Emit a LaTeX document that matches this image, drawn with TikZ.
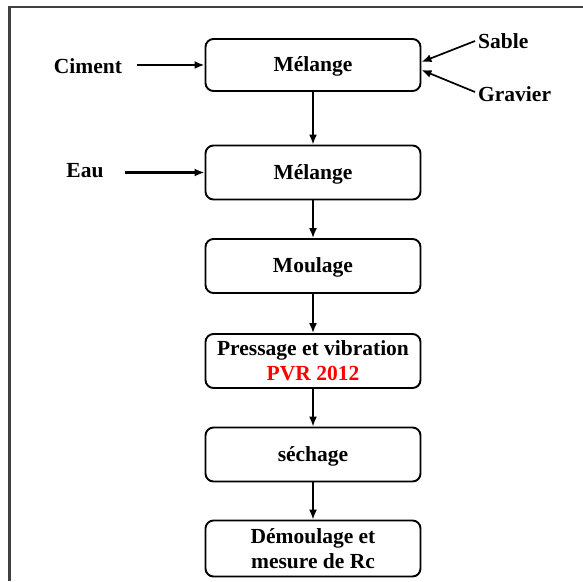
\documentclass[tikz,border=0pt]{standalone}
\usepackage{fontspec}
\setmainfont{Liberation Serif}
\usetikzlibrary{arrows.meta}
\tikzstyle{etape}=[draw, rounded corners=8pt, line width=1.9pt, minimum width=215pt, minimum height=54pt, align=center, inner sep=0pt, font=\fontsize{21.5}{25}\selectfont\bfseries]
\tikzstyle{seule}=[text depth=1pt]
\tikzstyle{entree}=[inner sep=0pt, font=\fontsize{21.5}{25}\selectfont\bfseries]
\tikzstyle{fleche}=[line width=1.7pt, -{Latex[length=10pt,width=8pt]}]
\tikzstyle{apport}=[fleche, line width=2.2pt]
\definecolor{cadre}{rgb}{0.25,0.25,0.25}

\begin{document}
\begin{tikzpicture}[x=1pt,y=-1pt]
    \useasboundingbox (0,0) rectangle (583,581);

    % outer frame, cut at the right and at the bottom
    \draw[line width=2.8pt, color=cadre] (9.5,581) -- (9.5,7) -- (583,7);

    % the steps of the process
    \node[etape, seule, minimum height=52pt] (m1) at (313,65) {Mélange};
    \node[etape, seule] (m2) at (313,172.5) {Mélange};
    \node[etape, seule] (moul) at (313,266) {Moulage};
    \node[etape] (press) at (313,361) {Pressage et vibration\\\textcolor{red}{PVR 2012}};
    \node[etape, seule] (sech) at (313,454.5) {séchage};
    \node[etape, minimum height=56pt] (demoul) at (313,548.5) {Démoulage et\\mesure de Rc};

    % the inputs
    \node[entree] (ciment) at (88,66) {Ciment};
    \node[entree] (eau) at (85,171) {Eau};
    \node[entree, anchor=west] (sable) at (478,41) {Sable};
    \node[entree, anchor=west] (gravier) at (478,94) {Gravier};

    % arrows into the first two steps
    \draw[apport] ([xshift=15pt]ciment.east |- m1.west) -- (m1.west);
    \draw[apport] ([xshift=21pt]eau.east |- m2.west) -- (m2.west);
    \draw[fleche] ([xshift=-3pt]sable.west) -- ([yshift=3pt]m1.east);
    \draw[fleche] ([xshift=-3pt,yshift=2pt]gravier.west) -- ([yshift=-5pt]m1.east);

    % arrows down the chain
    \foreach \a/\b in {m1/m2, m2/moul, moul/press, press/sech, sech/demoul}
    \draw[fleche] (\a.south) -- (\b.north);
\end{tikzpicture}
\end{document}
